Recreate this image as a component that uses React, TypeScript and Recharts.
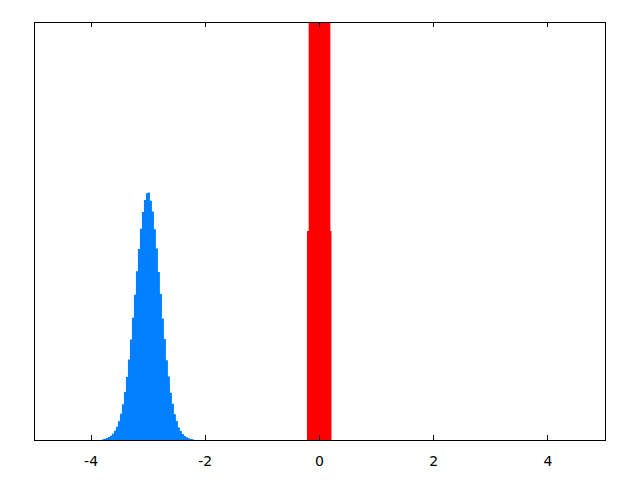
import React from "react";
import { ComposedChart, Area, XAxis, YAxis, ReferenceArea } from "recharts";

// Blue histogram: bins starting at blueStart, each blueBinWidth wide
const blueStart = -3.81;
const blueBinWidth = 0.035;
const blueValues = [
  0.006, 0.009, 0.014, 0.021, 0.031, 0.045, 0.066, 0.095, 0.135, 0.188,
  0.257, 0.345, 0.452, 0.578, 0.721, 0.878, 1.043, 1.211, 1.371, 1.516,
  1.636, 1.723, 1.771, 1.776, 1.718, 1.64, 1.512, 1.375, 1.205, 1.048,
  0.872, 0.725, 0.572, 0.455, 0.34, 0.26, 0.184, 0.136, 0.09, 0.064,
  0.043, 0.029, 0.019, 0.012, 0.008, 0.005,
];

// Red histogram: bin edges and heights (last edge closes the shape)
const redEdges = [-0.22, -0.19, 0.19, 0.21];
const redValues = [1.5, 4, 1.5, 0];

const xTicks = [-4, -2, 0, 2, 4];
const xTickLabels = ["-4", "-2", "0", "2", "4"];
const xDomain = [-5, 5];
const yDomain = [0, 3];

type Row = { x: number; blue?: number; red?: number };

const rows: Row[] = [];
blueValues.forEach((v, i) => rows.push({ x: blueStart + i * blueBinWidth, blue: v }));
rows.push({ x: blueStart + blueValues.length * blueBinWidth, blue: 0 });
redEdges.forEach((e, i) => rows.push({ x: e, red: redValues[i] }));
rows.sort((a, b) => a.x - b.x);

const BottomTick = (props: any) => {
  const { x, y, payload } = props;
  const idx = xTicks.indexOf(payload.value);
  const label = idx >= 0 ? xTickLabels[idx] : String(payload.value);
  return (
    <g>
      <line x1={x} x2={x} y1={y} y2={y - 5} stroke="#000" strokeWidth={1} shapeRendering="crispEdges" />
      <text
        x={x}
        y={y + 26}
        textAnchor="middle"
        fill="#000"
        fontSize={14}
        fontFamily="DejaVu Sans"
      >
        {label}
      </text>
    </g>
  );
};

const TopTick = (props: any) => {
  const { x, y } = props;
  return (
    <line x1={x} x2={x} y1={y} y2={y + 5} stroke="#000" strokeWidth={1} shapeRendering="crispEdges" />
  );
};

export default function App() {
  return (
    <div style={{ position: "absolute", left: 0, top: 0, background: "#ffffff" }}>
      <ComposedChart
        width={640}
        height={480}
        data={rows}
        margin={{ top: 21, right: 35, bottom: 10, left: 34 }}
      >
        <XAxis
          dataKey="x"
          type="number"
          domain={xDomain}
          ticks={xTicks}
          allowDataOverflow
          height={30}
          tickSize={0}
          tickMargin={0}
          tickLine={false}
          axisLine={false}
          tick={<BottomTick />}
        />
        <XAxis
          xAxisId="top"
          dataKey="x"
          type="number"
          orientation="top"
          domain={xDomain}
          ticks={xTicks}
          allowDataOverflow
          height={1}
          tickSize={0}
          tickMargin={0}
          tickLine={false}
          axisLine={false}
          tick={<TopTick />}
        />
        <YAxis
          type="number"
          domain={yDomain}
          allowDataOverflow
          hide
        />
        <Area
          dataKey="blue"
          type="stepAfter"
          connectNulls
          stroke="none"
          fill="#0080ff"
          fillOpacity={1}
          dot={false}
          activeDot={false}
          isAnimationActive={false}
        />
        <Area
          dataKey="red"
          type="stepAfter"
          connectNulls
          stroke="none"
          fill="#ff0000"
          fillOpacity={1}
          dot={false}
          activeDot={false}
          isAnimationActive={false}
        />
        <ReferenceArea
          x1={xDomain[0]}
          x2={xDomain[1]}
          y1={yDomain[0]}
          y2={yDomain[1]}
          fill="none"
          fillOpacity={0}
          stroke="#000"
          strokeWidth={1}
          shapeRendering="crispEdges"
          ifOverflow="extendDomain"
        />
      </ComposedChart>
    </div>
  );
}
